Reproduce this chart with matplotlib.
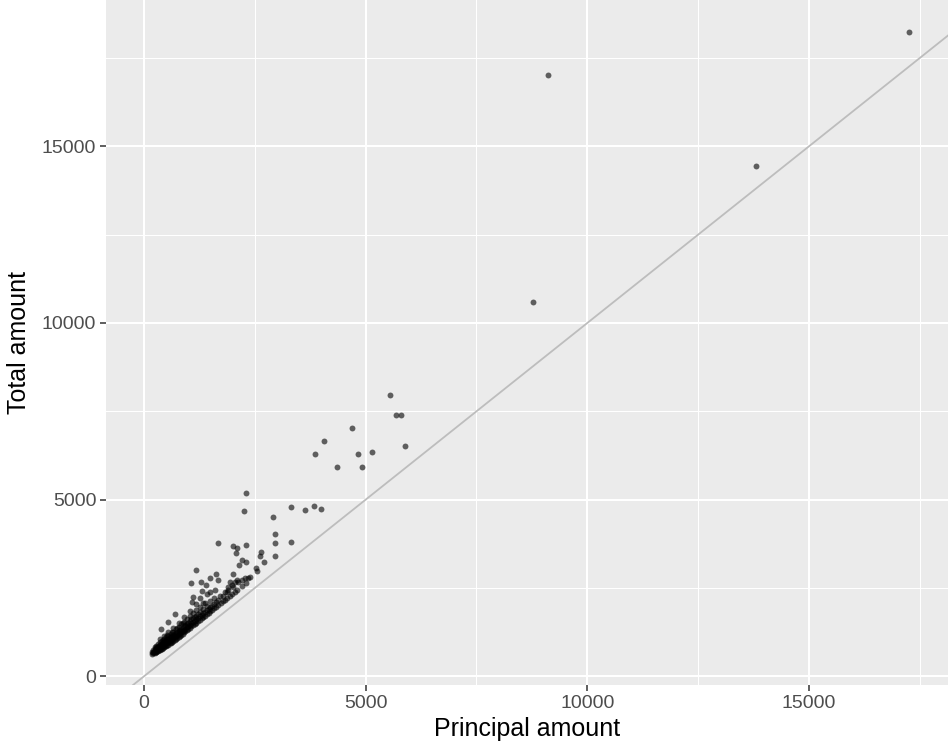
import numpy as np
import matplotlib
matplotlib.use('Agg')
import matplotlib.pyplot as plt

plt.rcParams['font.family'] = ['Liberation Sans', 'DejaVu Sans']

# основное плотное облако точек (principal, total)
band_principal = [170, 170,
                  200, 200, 200,
                  240, 240, 240, 240,
                  280, 280, 280, 280,
                  320, 320, 320, 320,
                  360, 360, 360, 360, 360,
                  400, 400, 400, 400,
                  450, 450, 450, 450, 450,
                  500, 500, 500, 500,
                  550, 550, 550, 550, 550,
                  600, 600, 600, 600,
                  660, 660, 660, 660, 660,
                  720, 720, 720, 720,
                  780, 780, 780, 780, 780,
                  840, 840, 840, 840,
                  900, 900, 900, 900, 900,
                  970, 970, 970, 970,
                  1040, 1040, 1040, 1040, 1040,
                  1110, 1110, 1110, 1110,
                  1180, 1180, 1180, 1180, 1180,
                  1260, 1260, 1260, 1260,
                  1340, 1340, 1340, 1340,
                  1420, 1420, 1420,
                  1500, 1500, 1500,
                  1590, 1590, 1590,
                  1680, 1680,
                  1780, 1780,
                  1880, 1880,
                  1990, 2100]
band_total = [640, 690,
              650, 700, 750,
              660, 710, 770, 830,
              690, 740, 800, 870,
              720, 780, 840, 920,
              750, 810, 880, 960, 1050,
              780, 850, 920, 1000,
              820, 890, 960, 1050, 1150,
              860, 930, 1010, 1100,
              900, 970, 1050, 1150, 1260,
              950, 1020, 1100, 1200,
              1000, 1080, 1160, 1260, 1380,
              1060, 1140, 1220, 1330,
              1120, 1200, 1290, 1400, 1520,
              1180, 1260, 1350, 1470,
              1240, 1320, 1420, 1540, 1680,
              1310, 1390, 1490, 1620,
              1380, 1460, 1560, 1700, 1860,
              1450, 1540, 1650, 1790,
              1520, 1610, 1720, 1880, 2060,
              1600, 1700, 1820, 1970,
              1680, 1780, 1900, 2080,
              1760, 1870, 2000,
              1840, 1960, 2120,
              1930, 2060, 2220,
              2020, 2160,
              2120, 2260,
              2220, 2380,
              2330, 2440]

# промежуточные точки, чтобы облако было плотнее
fill_principal = [220, 260, 260, 300, 300, 300, 340, 340, 340,
                  380, 380, 380, 420, 420, 420, 420, 470, 470, 470,
                  520, 520, 520, 520, 580, 580, 580, 630, 630, 630, 630,
                  690, 690, 690, 750, 750, 750, 750, 810, 810, 810,
                  870, 870, 870, 870, 930, 930, 930, 1000, 1000, 1000,
                  1070, 1070, 1070, 1140, 1140, 1140, 1220, 1220, 1220,
                  1300, 1300, 1380, 1380, 1460, 1460, 1540, 1540, 1630, 1630,
                  1730, 1830, 1940, 2050, 2200, 2300]
fill_total = [680, 690, 740, 720, 770, 830, 740, 800, 870,
              780, 840, 910, 800, 880, 950, 1040, 850, 930, 1000,
              890, 970, 1050, 1160, 930, 1010, 1100, 980, 1060, 1140, 1240,
              1030, 1110, 1200, 1090, 1170, 1260, 1370, 1150, 1230, 1320,
              1210, 1290, 1380, 1500, 1270, 1350, 1450, 1340, 1420, 1520,
              1410, 1500, 1610, 1480, 1570, 1680, 1560, 1650, 1770,
              1640, 1740, 1720, 1820, 1800, 1910, 1880, 2000, 1970, 2100,
              2070, 2170, 2280, 2380, 2560, 2640]

# отдельные точки
principal = [17264, 9113, 13806, 8775,
             5549, 5685, 5797, 4692, 4067, 3851, 4821, 5143, 5888, 4354, 4911,
             2294, 2256, 3323, 3624, 3842, 3985,
             2910, 2948, 2948, 3316, 2955,
             1662, 2015, 2105, 2294, 2075, 2632, 2617, 2707,
             2204, 2294, 2136, 2533, 2548,
             1166, 1617, 2015, 1489, 1676, 1279, 1067, 1399,
             1902, 1940, 1978, 2015, 2053, 2091, 2127, 2204, 2278, 2353, 2391,
             1301, 1489, 1602, 1412, 1112, 1263, 1714, 1076, 1376, 1830, 1900,
             535, 699, 380]
total = [18236, 17019, 14444, 10594,
         7962, 7396, 7396, 7028, 6669, 6284, 6284, 6349, 6519, 5933, 5916,
         5180, 4665, 4797, 4693, 4826, 4741,
         4505, 4024, 3786, 3806, 3409,
         3786, 3692, 3645, 3721, 3494, 3522, 3400, 3230,
         3287, 3248, 3162, 3060, 2992,
         3004, 2890, 2907, 2785, 2737, 2672, 2652, 2579,
         2536, 2678, 2584, 2536, 2661, 2726, 2678, 2726, 2774, 2791, 2820,
         2414, 2395, 2434, 2321, 2253, 2208, 2273, 2112, 2066, 2400, 2450,
         1528, 1763, 1345]

x_all = band_principal + fill_principal + principal
y_all = band_total + fill_total + total

fig = plt.figure(figsize=(9.48, 7.47), dpi=100)
ax = fig.add_axes([106 / 948, 62 / 747, 842 / 948, 685 / 747])
ax.set_facecolor('#EBEBEB')
for s in ax.spines.values():
    s.set_visible(False)

ax.set_xlim(-857, 18137)
ax.set_ylim(-246, 19142)

ax.set_xticks([0, 5000, 10000, 15000])
ax.set_yticks([0, 5000, 10000, 15000])
ax.set_xticks([2500, 7500, 12500, 17500], minor=True)
ax.set_yticks([2500, 7500, 12500, 17500], minor=True)
ax.grid(which='major', color='white', linewidth=1.5)
ax.grid(which='minor', color='white', linewidth=0.75)
ax.set_axisbelow(True)
ax.tick_params(which='major', length=4, width=1.1, color='#333333',
               labelsize=14, labelcolor='#4D4D4D', pad=3)
ax.tick_params(which='minor', length=0)

# линия y = x
ax.axline((0, 0), slope=1, color='#BDBDBD', linewidth=1.3, zorder=2)

ax.scatter(x_all, y_all, s=18, color='black', alpha=0.6, linewidths=0, zorder=3)

ax.set_xlabel('Principal amount', fontsize=18, color='black', labelpad=4)
ax.set_ylabel('Total amount', fontsize=18, color='black', labelpad=8)

fig.savefig('out.png', dpi=100)
